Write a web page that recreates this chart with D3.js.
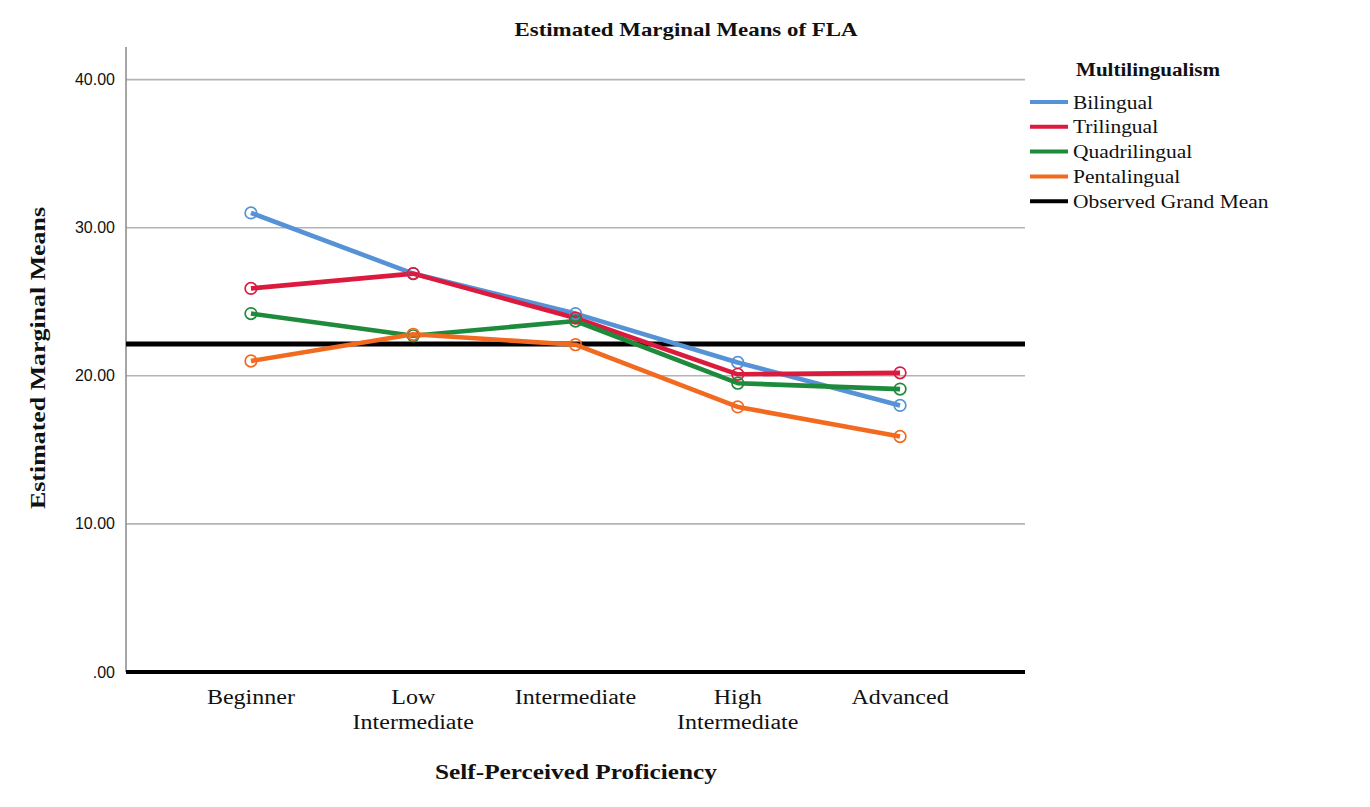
<!DOCTYPE html>
<html>
<head>
<meta charset="utf-8">
<script src="https://cdn.jsdelivr.net/npm/d3@7"></script>
<style>
  body { margin: 0; background: #fff; }
  text { font-family: "Liberation Serif", "Times New Roman", serif; fill: #111; }
</style>
</head>
<body>
<div id="chart"></div>
<script>
// data
const levels = ["Beginner", "Low Intermediate", "Intermediate", "High Intermediate", "Advanced"];
const levelLines = [["Beginner"], ["Low", "Intermediate"], ["Intermediate"], ["High", "Intermediate"], ["Advanced"]];
const groups = ["Bilingual", "Trilingual", "Quadrilingual", "Pentalingual"];
const bilingual = [31.0, 26.9, 24.2, 20.9, 18.0];
const trilingual = [25.9, 26.9, 23.9, 20.1, 20.2];
const quadrilingual = [24.2, 22.7, 23.7, 19.5, 19.1];
const pentalingual = [21.0, 22.8, 22.1, 17.9, 15.9];
const grandMean = 22.15;
const yTicks = [0, 10, 20, 30, 40];
const colors = ["#5592d6", "#dc1a3e", "#1e8a3b", "#f26a20"];

const series = [bilingual, trilingual, quadrilingual, pentalingual];

const W = 1370, H = 807;
const margin = { top: 47, right: 345, bottom: 135, left: 126 };
const width = W - margin.left - margin.right,
  height = H - margin.top - margin.bottom;

// the reference's serif text is drawn wider than Liberation Serif, stretch it
function stretch(sel, f) {
  sel.each(function () {
    const len = this.getComputedTextLength();
    d3.select(this).attr("textLength", len * f).attr("lengthAdjust", "spacingAndGlyphs");
  });
}

const svg = d3.select("#chart").append("svg")
  .attr("width", W).attr("height", H);

const g = svg.append("g").attr("transform", `translate(${margin.left},${margin.top})`);

const x = d3.scalePoint().domain(levels).range([0, width]).padding(0.77);
const y = d3.scaleLinear().domain([0, 42.2]).range([height, 0]);

// gridlines
g.selectAll(".grid").data(yTicks.filter(d => d > 0)).join("line")
  .attr("x1", 0).attr("x2", width)
  .attr("y1", d => y(d)).attr("y2", d => y(d))
  .attr("stroke", "#b4b4b4").attr("stroke-width", 1.6);

// y axis line
g.append("line").attr("x1", 0).attr("x2", 0).attr("y1", 0).attr("y2", height)
  .attr("stroke", "#888").attr("stroke-width", 1.5);

// y tick labels
g.selectAll(".ytick").data(yTicks).join("text")
  .attr("x", -11).attr("y", d => y(d)).attr("dy", "0.35em")
  .attr("text-anchor", "end")
  .style("font-family", "'Liberation Sans', Arial, sans-serif")
  .style("font-size", "16px")
  .text(d => d === 0 ? ".00" : d3.format(".2f")(d));

// x axis at zero (thick)
g.append("line").attr("x1", 0).attr("x2", width).attr("y1", y(0)).attr("y2", y(0))
  .attr("stroke", "#000").attr("stroke-width", 4);

// category labels
levels.forEach((d, i) => {
  const t = g.selectAll(".xl" + i).data(levelLines[i]).join("text")
    .attr("text-anchor", "middle")
    .attr("x", x(d)).attr("y", (s, j) => height + 32 + j * 25)
    .style("font-size", "20px")
    .text(s => s);
  stretch(t, 1.2);
});

// grand mean
g.append("line").attr("x1", 0).attr("x2", width)
  .attr("y1", y(grandMean)).attr("y2", y(grandMean))
  .attr("stroke", "#000").attr("stroke-width", 5);

// series lines + open markers
const line = d3.line().x((d, i) => x(levels[i])).y(d => y(d));
series.forEach((s, k) => {
  g.append("path").datum(s).attr("d", line)
    .attr("fill", "none").attr("stroke", colors[k]).attr("stroke-width", 4.6)
    .attr("stroke-linejoin", "round");
});
series.forEach((s, k) => {
  g.selectAll(".pt" + k).data(s).join("circle")
    .attr("cx", (d, i) => x(levels[i])).attr("cy", d => y(d)).attr("r", 5.8)
    .attr("fill", "none").attr("stroke", colors[k]).attr("stroke-width", 1.7);
});

// titles
svg.append("text").attr("x", 686).attr("y", 36).attr("text-anchor", "middle")
  .style("font-weight", "bold").style("font-size", "19px")
  .attr("textLength", 343).attr("lengthAdjust", "spacingAndGlyphs")
  .text("Estimated Marginal Means of FLA");

svg.append("text").attr("x", 576).attr("y", 779).attr("text-anchor", "middle")
  .style("font-weight", "bold").style("font-size", "21px")
  .attr("textLength", 282).attr("lengthAdjust", "spacingAndGlyphs")
  .text("Self-Perceived Proficiency");

svg.append("text").attr("transform", "translate(45,358) rotate(-90)")
  .attr("text-anchor", "middle")
  .style("font-weight", "bold").style("font-size", "21px")
  .attr("textLength", 302).attr("lengthAdjust", "spacingAndGlyphs")
  .text("Estimated Marginal Means");

// legend
const legend = svg.append("g").attr("transform", "translate(1030,70)");
legend.append("text").attr("x", 46).attr("y", 6)
  .style("font-weight", "bold").style("font-size", "18px")
  .attr("textLength", 144).attr("lengthAdjust", "spacingAndGlyphs")
  .text("Multilingualism");
const legItems = groups.map((d, i) => ({ name: d, color: colors[i] }))
  .concat([{ name: "Observed Grand Mean", color: "#000" }]);
const li = legend.selectAll(".li").data(legItems).join("g")
  .attr("transform", (d, i) => `translate(0,${32 + i * 24.8})`);
li.append("line").attr("x1", 0).attr("x2", 38)
  .attr("stroke", d => d.color).attr("stroke-width", 4);
const lt = li.append("text").attr("x", 43).attr("dy", "0.35em")
  .style("font-size", "19px")
  .text(d => d.name);
stretch(lt, 1.13);
</script>
</body>
</html>
